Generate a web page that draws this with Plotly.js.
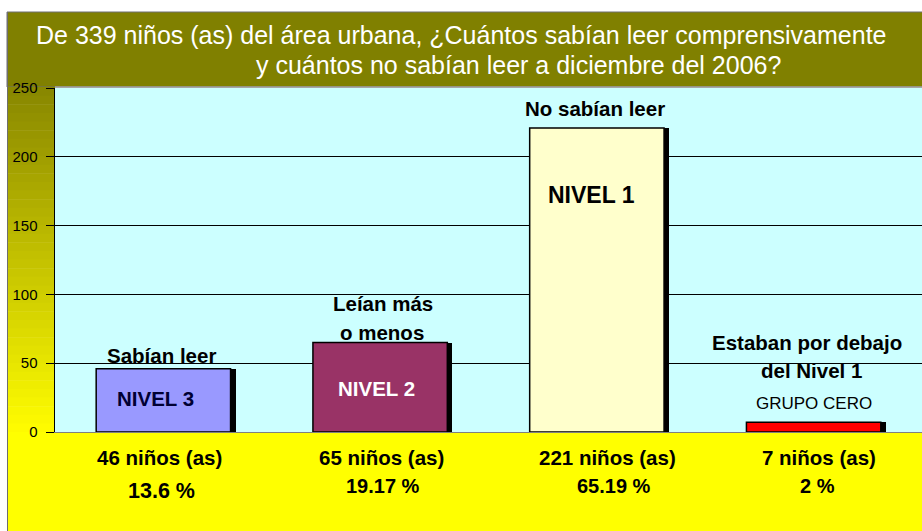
<!DOCTYPE html>
<html>
<head>
<meta charset="utf-8">
<script src="https://cdn.plot.ly/plotly-3.0.1.min.js"></script>
<style>
html,body{margin:0;padding:0;background:#fff;}
#chart{width:922px;height:531px;}
</style>
</head>
<body>
<div id="chart"></div>
<script>
// ---- data ----
const categories = ["NIVEL 3", "NIVEL 2", "NIVEL 1", "GRUPO CERO"];
const counts = [46, 65, 221, 7];
const countLabels = ["46 niños (as)", "65 niños (as)", "221 niños (as)", "7 niños (as)"];
const percentLabels = ["13.6 %", "19.17 %", "65.19 %", "2 %"];
const topLabelLines = [["Sabían leer"], ["Leían más", "o menos"], ["No sabían leer"], ["Estaban por debajo", "del Nivel 1"]];
const titleLines = ["De 339 niños (as) del área urbana, ¿Cuántos sabían leer comprensivamente",
                    "y cuántos no sabían leer a diciembre del 2006?"];
const yTickVals = [0, 50, 100, 150, 200, 250];

// ---- styles ----
const barColors = ["#9999FF", "#993366", "#FFFFCC", "#FF0000"];
const innerColors = ["#000033", "#FFFFFF", "#000000", "#000000"];
const W = 922, H = 531;
const L = 55, R = 922, T = 88, B = 432;
const FONT = "Liberation Sans, Arial, sans-serif";
const px = x => (x - L) / (R - L);
const py = y => (B - y) / (B - T);

const barWidth = 0.62;
const shadowShift = 5 / ((R - L) / 4);

const traces = [
  {type: "bar", x: categories, y: counts, width: barWidth, offset: -barWidth / 2 + shadowShift,
   marker: {color: "#000000", line: {width: 0}}, hoverinfo: "skip", showlegend: false},
  {type: "bar", x: categories, y: counts, width: barWidth, offset: -barWidth / 2,
   marker: {color: barColors, line: {color: "#000000", width: 1.5}}, showlegend: false}
];

const shapes = [];
// title bar
shapes.push({type: "rect", xref: "paper", yref: "paper", x0: px(7), x1: px(923), y0: py(12), y1: py(87),
  fillcolor: "#808000", line: {color: "#6e6e6e", width: 1}, layer: "below"});
// left gradient strip
const nBands = 40;
for (let i = 0; i < nBands; i++) {
  const y0 = 87 + (B - 87) * i / nBands, y1 = 87 + (B - 87) * (i + 1) / nBands + 0.6;
  const t = (i + 0.5) / nBands;
  const c = Math.round(136 + (255 - 136) * t);
  shapes.push({type: "rect", xref: "paper", yref: "paper", x0: px(8), x1: px(L), y0: py(y0), y1: py(Math.min(y1, B)),
    fillcolor: `rgb(${c},${Math.round(c*0.99)},0)`, line: {width: 0}, layer: "below"});
}
// bottom yellow area
shapes.push({type: "rect", xref: "paper", yref: "paper", x0: px(8), x1: px(923), y0: py(B), y1: py(532),
  fillcolor: "#FFFF00", line: {width: 0}, layer: "below"});
// frame left edge
shapes.push({type: "line", xref: "paper", yref: "paper", x0: px(7.5), x1: px(7.5), y0: py(12), y1: py(531),
  line: {color: "#6e6e6e", width: 1}});
// separator below title
shapes.push({type: "line", xref: "paper", yref: "paper", x0: px(55), x1: px(922), y0: py(87), y1: py(87),
  line: {color: "#a0a0a0", width: 1.5}});

const annotations = [];
// title
annotations.push({xref: "paper", yref: "paper", x: px(461), y: py(35), text: titleLines[0], showarrow: false,
  xanchor: "center", yanchor: "middle", font: {family: FONT, size: 25, color: "#FFFFFF"}});
annotations.push({xref: "paper", yref: "paper", x: px(518), y: py(65), text: titleLines[1], showarrow: false,
  xanchor: "center", yanchor: "middle", font: {family: FONT, size: 25, color: "#FFFFFF"}});

// labels above bars
const topLineY = [[355], [303, 332], [108], [342, 370]];
const topShift = [[-2], [3, 2], [-2], [-7, -2]];
topLabelLines.forEach((lines, i) => {
  lines.forEach((ln, j) => {
    annotations.push({xref: "x", yref: "paper", x: categories[i], y: py(topLineY[i][j]), text: ln, showarrow: false,
      xanchor: "center", yanchor: "middle", xshift: topShift[i][j],
      font: {family: FONT, size: 20.5, color: "#000000", weight: "bold"}});
  });
});
// labels inside bars
const innerY = [398, 388, 195, 403];
const innerShift = [-8, -4, -5, 0];
const innerSize = [20.5, 20.5, 23, 17];
const innerWeight = ["bold", "bold", "bold", "normal"];
categories.forEach((c, i) => {
  annotations.push({xref: "x", yref: "paper", x: c, y: py(innerY[i]), text: c, showarrow: false,
    xanchor: "center", yanchor: "middle", xshift: innerShift[i],
    font: {family: FONT, size: innerSize[i], color: innerColors[i], weight: innerWeight[i]}});
});
// bottom labels
const pctY = [491, 486, 486, 486];
const pctSize = [21.5, 20, 20, 20];
const countShift = [-4, 1, 11, 5];
const pctShift = [-2, 3, 17, 4];
categories.forEach((c, i) => {
  annotations.push({xref: "x", yref: "paper", x: c, y: py(458), text: countLabels[i], showarrow: false,
    xanchor: "center", yanchor: "middle", xshift: countShift[i],
    font: {family: FONT, size: 20.5, color: "#000000", weight: "bold"}});
  annotations.push({xref: "x", yref: "paper", x: c, y: py(pctY[i]), text: percentLabels[i], showarrow: false,
    xanchor: "center", yanchor: "middle", xshift: pctShift[i],
    font: {family: FONT, size: pctSize[i], color: "#000000", weight: "bold"}});
});

const layout = {
  width: W, height: H,
  margin: {l: L, r: W - R, t: T, b: H - B, pad: 0},
  paper_bgcolor: "#FFFFFF",
  plot_bgcolor: "#CCFFFF",
  barmode: "overlay",
  bargap: 0,
  showlegend: false,
  xaxis: {type: "category", showticklabels: false, ticks: "", showgrid: false, zeroline: false,
          showline: true, linecolor: "#808080", linewidth: 1, fixedrange: true},
  yaxis: {range: [0, 250], tickvals: yTickVals, ticks: "outside", ticklen: 8, tickcolor: "#000000",
          showline: true, linecolor: "#000000", linewidth: 1.5, showgrid: true, gridcolor: "#000000", gridwidth: 1,
          zeroline: false, ticklabelstandoff: 5,
          tickfont: {family: FONT, size: 15, color: "#000000"}, fixedrange: true},
  shapes: shapes,
  annotations: annotations
};

Plotly.newPlot("chart", traces, layout, {displayModeBar: false, staticPlot: true});
</script>
</body>
</html>
